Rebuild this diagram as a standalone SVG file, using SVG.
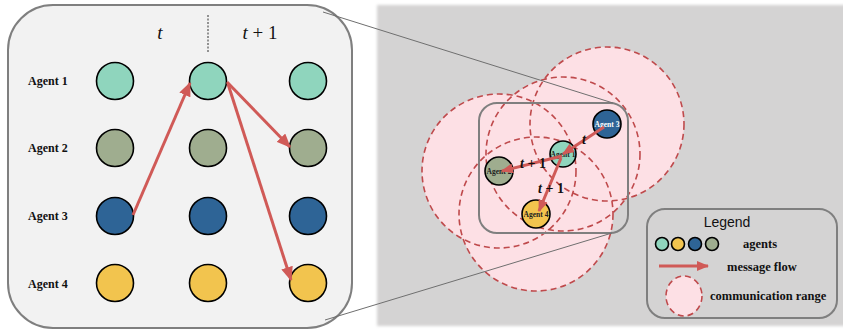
<svg xmlns="http://www.w3.org/2000/svg" width="843" height="331" viewBox="0 0 843 331">
<defs>
<marker id="ah" markerUnits="userSpaceOnUse" markerWidth="14" markerHeight="12" refX="13" refY="6" orient="auto">
<path d="M0,0 L14,6 L0,12 Z" fill="#d05a57"/>
</marker>
<marker id="ahs" markerUnits="userSpaceOnUse" markerWidth="12" markerHeight="10" refX="11" refY="5" orient="auto">
<path d="M0,0 L12,5 L0,10 Z" fill="#d05a57"/>
</marker>
<filter id="blur" x="-5%" y="-5%" width="110%" height="110%"><feGaussianBlur stdDeviation="1.5"/></filter>
</defs>
<style>
.a1{fill:#8fd5bd}.a2{fill:#9fad8f}.a3{fill:#2e6496}.a4{fill:#f2c44e}
.ag{stroke:#000;stroke-width:1.6}
.lbl{font-family:"Liberation Serif",serif;font-weight:bold;font-size:12px;fill:#111}
.math{font-family:"Liberation Serif",serif;font-style:italic;font-size:19px;fill:#111}
.mathr{font-family:"Liberation Serif",serif;font-size:19px;fill:#111}
.flow{stroke:#d05a57;stroke-width:3;fill:none}
.range{fill:#fde0e5}
.dash{fill:none;stroke:#bf4a4c;stroke-width:1.6;stroke-dasharray:6,4}
.small{font-family:"Liberation Serif",serif;font-weight:bold;font-size:7.5px;text-anchor:middle}
.rmath{font-family:"Liberation Serif",serif;font-style:italic;font-weight:bold;font-size:14px;fill:#111}
.leg{font-family:"Liberation Serif",serif;font-weight:bold;font-size:12.5px;fill:#111}
</style>
<rect width="843" height="331" fill="#ffffff"/>
<rect x="377" y="5" width="470" height="321" fill="#d4d3d3" filter="url(#blur)"/>

<g id="timeline-panel">
<rect x="8" y="5" width="344" height="323" rx="45" ry="45" fill="#f2f2f2" stroke="#7f7f7f" stroke-width="2"/>
<text x="160" y="39" class="math" text-anchor="middle">t</text>
<text x="260" y="39" class="math" text-anchor="middle">t<tspan class="mathr" font-style="normal"> + 1</tspan></text>
<line x1="208" y1="15" x2="208" y2="53" stroke="#333" stroke-width="1" stroke-dasharray="2,1.5"/>
</g>
<g id="label-agent1"><text x="28" y="85" class="lbl">Agent 1</text></g>
<g id="label-agent2"><text x="28" y="152" class="lbl">Agent 2</text></g>
<g id="label-agent3"><text x="28" y="220" class="lbl">Agent 3</text></g>
<g id="label-agent4"><text x="28" y="288" class="lbl">Agent 4</text></g>

<g id="grid-nodes">
<g id="a1-c0"><circle cx="115" cy="81" r="18.5" class="a1 ag"/></g>
<g id="a1-c1"><circle cx="208" cy="81" r="18.5" class="a1 ag"/></g>
<g id="a1-c2"><circle cx="308" cy="81" r="18.5" class="a1 ag"/></g>
<g id="a2-c0"><circle cx="115" cy="148" r="18.5" class="a2 ag"/></g>
<g id="a2-c1"><circle cx="208" cy="148" r="18.5" class="a2 ag"/></g>
<g id="a2-c2"><circle cx="308" cy="148" r="18.5" class="a2 ag"/></g>
<g id="a3-c0"><circle cx="115" cy="216" r="18.5" class="a3 ag"/></g>
<g id="a3-c1"><circle cx="208" cy="216" r="18.5" class="a3 ag"/></g>
<g id="a3-c2"><circle cx="308" cy="216" r="18.5" class="a3 ag"/></g>
<g id="a4-c0"><circle cx="115" cy="283" r="18.5" class="a4 ag"/></g>
<g id="a4-c1"><circle cx="208" cy="283" r="18.5" class="a4 ag"/></g>
<g id="a4-c2"><circle cx="308" cy="283" r="18.5" class="a4 ag"/></g>
</g>

<g id="grid-connectors">
<line x1="133" y1="215" x2="190" y2="83" class="flow" marker-end="url(#ah)"/>
<line x1="227" y1="82" x2="290" y2="147" class="flow" marker-end="url(#ah)"/>
<line x1="228" y1="84" x2="291" y2="280" class="flow" marker-end="url(#ah)"/>
</g>

<g id="ranges">
<circle cx="499" cy="171" r="77" class="range"/>
<circle cx="563" cy="154" r="77" class="range"/>
<circle cx="607" cy="124" r="77" class="range"/>
<circle cx="536" cy="214" r="77" class="range"/>
<circle cx="499" cy="171" r="77" class="dash"/>
<circle cx="563" cy="154" r="77" class="dash"/>
<circle cx="607" cy="124" r="77" class="dash"/>
<circle cx="536" cy="214" r="77" class="dash"/>
</g>

<g id="zoom-box">
<rect x="479" y="103" width="149" height="130" rx="18" ry="18" fill="none" stroke="#7f7f7f" stroke-width="2"/>
</g>

<g id="zoom-lines">
<line x1="323" y1="12" x2="613" y2="103" stroke="#6f6f6f" stroke-width="1"/>
<line x1="325" y1="320" x2="612" y2="233" stroke="#6f6f6f" stroke-width="1"/>
</g>

<g id="node-agent3"><circle cx="607" cy="124" r="14" class="a3 ag"/><text x="607" y="127" class="small" fill="#fff">Agent 3</text></g>
<g id="node-agent1"><circle cx="563" cy="154" r="13" class="a1 ag"/><text x="563" y="157" class="small" fill="#222">Agent 1</text></g>
<g id="node-agent2"><circle cx="499" cy="171" r="14" class="a2 ag"/><text x="499" y="174" class="small" fill="#222">Agent 2</text></g>
<g id="node-agent4"><circle cx="536" cy="214" r="14" class="a4 ag"/><text x="536" y="217" class="small" fill="#222">Agent 4</text></g>

<g id="map-connectors">
<line x1="604" y1="127" x2="563" y2="154" class="flow" marker-end="url(#ahs)"/>
<line x1="562" y1="156" x2="502" y2="171" class="flow" marker-end="url(#ahs)"/>
<line x1="561" y1="158" x2="539" y2="211" class="flow" marker-end="url(#ahs)"/>
<text x="584" y="144" class="rmath" text-anchor="middle">t</text>
<text x="533" y="168" class="rmath" text-anchor="middle">t<tspan font-style="normal"> + 1</tspan></text>
<text x="551" y="193" class="rmath" text-anchor="middle">t<tspan font-style="normal"> + 1</tspan></text>
</g>

<g id="legend">
<rect x="647" y="209" width="190" height="109" rx="18" ry="18" fill="#d4d3d3" stroke="#7f7f7f" stroke-width="2"/>
<text x="727" y="227" font-family="'Liberation Sans',Arial,sans-serif" font-size="14" text-anchor="middle" fill="#111">Legend</text>
<circle cx="662" cy="244" r="6.5" class="a1 ag"/>
<circle cx="678" cy="244" r="6.5" class="a4 ag"/>
<circle cx="695" cy="244" r="6.5" class="a3 ag"/>
<circle cx="712" cy="244" r="6.5" class="a2 ag"/>
<text x="743" y="248" class="leg">agents</text>
<line x1="659" y1="266" x2="708" y2="266" class="flow" marker-end="url(#ahs)"/>
<text x="727" y="271" class="leg">message flow</text>
<ellipse cx="684" cy="296" rx="18" ry="20" class="range"/>
<ellipse cx="684" cy="296" rx="18" ry="20" class="dash" stroke-dasharray="4,3"/>
<text x="710" y="300" class="leg">communication range</text>
</g>
</svg>
